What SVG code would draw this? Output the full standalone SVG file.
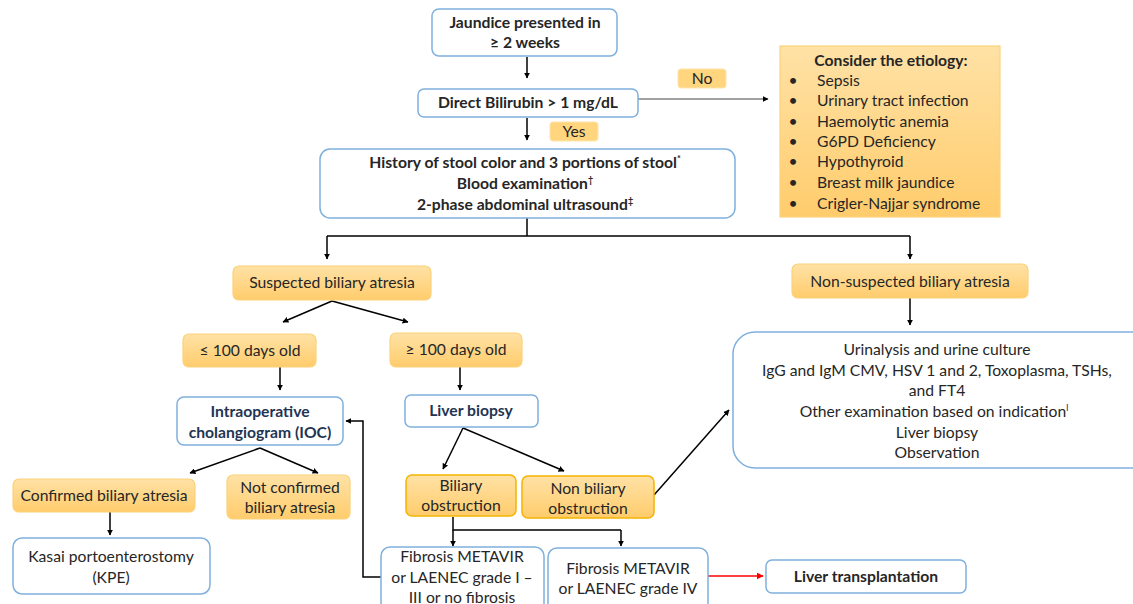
<svg xmlns="http://www.w3.org/2000/svg" width="1133" height="604" viewBox="0 0 1133 604">
<defs>
<linearGradient id="og" x1="0" y1="0" x2="0" y2="1">
<stop offset="0" stop-color="#FFE2A6"/><stop offset="1" stop-color="#FFCC6C"/>
</linearGradient>
<marker id="ah" viewBox="0 0 10 10" refX="9" refY="5" markerWidth="6" markerHeight="6" orient="auto" markerUnits="userSpaceOnUse">
<path d="M0,0 L10,5 L0,10 z" fill="#000"/>
</marker>
<marker id="ahr" viewBox="0 0 10 10" refX="9" refY="5" markerWidth="7" markerHeight="7" orient="auto" markerUnits="userSpaceOnUse">
<path d="M0,0 L10,5 L0,10 z" fill="#FF0000"/>
</marker>
</defs>
<style>
text{font-family:Lato,"Open Sans","Liberation Sans",sans-serif;font-size:15.7px;fill:#262626;text-anchor:middle}
.b{font-weight:bold}
.n{fill:#1F3554}
.bl{fill:#fff;stroke:#7FB0DD;stroke-width:1.5}
.or{fill:url(#og);stroke:#FBD27A;stroke-width:1.2}
.or2{fill:url(#og);stroke:#F5B400;stroke-width:1.5}
.lb{fill:#FFD57E;stroke:#FFE4A8;stroke-width:1}
.c{fill:none;stroke:#000;stroke-width:1.5}
.ca{fill:none;stroke:#000;stroke-width:1.5;marker-end:url(#ah)}
.l{text-anchor:start}
</style>
<g id="connectors">
<path class="ca" d="M527,57 V78"/>
<path class="ca" d="M638,99 H768" style="stroke-width:1;stroke:#444"/>
<path class="ca" d="M527,118 V140"/>
<path class="c" d="M527,218 V236 M327,236 H910"/>
<path class="ca" d="M327,236 V259"/>
<path class="ca" d="M910,236 V259"/>
<path class="ca" d="M332,301 L283,322"/>
<path class="ca" d="M332,301 L408,322"/>
<path class="ca" d="M280,367 V390"/>
<path class="ca" d="M460,367 V390"/>
<path class="ca" d="M260,448 L190,473"/>
<path class="ca" d="M260,448 L318,473"/>
<path class="ca" d="M110,512 V535"/>
<path class="ca" d="M463,428 L443,469"/>
<path class="ca" d="M463,428 L564,471"/>
<path class="ca" d="M654,495 L729,410"/>
<path class="c" d="M453,517 V530 H621"/>
<path class="ca" d="M453,530 V546"/>
<path class="ca" d="M621,530 V546"/>
<path class="ca" d="M381,577 H363 V421 H346"/>
<path class="ca" d="M708,576 H763" style="stroke:#FF0000;marker-end:url(#ahr)"/>
<path class="ca" d="M910,298 V325"/>
</g>
<g id="jaundice"><rect class="bl" x="432" y="9" width="185" height="47" rx="7"/><text class="b" x="525" y="28">Jaundice presented in</text><text class="b" x="525" y="48">≥ 2 weeks</text></g>
<g id="bilirubin"><rect class="bl" x="418" y="89" width="220" height="28" rx="6"/><text class="b" x="528" y="108">Direct Bilirubin &gt; 1 mg/dL</text></g>
<g id="no"><rect class="lb" x="678" y="69" width="48" height="19" rx="3"/><text x="702" y="84">No</text></g>
<g id="yes"><rect class="lb" x="550" y="122" width="48" height="19" rx="3"/><text x="574" y="137">Yes</text></g>
<g id="history"><rect class="bl" x="320" y="149" width="415" height="69" rx="10"/>
<text class="b" x="525" y="168">History of stool color and 3 portions of stool<tspan font-size="9" dy="-6">*</tspan></text>
<text class="b" x="525" y="189">Blood examination<tspan font-size="9" dy="-6">†</tspan></text>
<text class="b" x="525" y="210">2-phase abdominal ultrasound<tspan font-size="9" dy="-6">‡</tspan></text></g>
<g id="etiology"><rect class="or" x="780" y="46" width="220" height="171"/>
<text class="b" x="891" y="66">Consider the etiology:</text>
<text x="793" y="86">•</text><text class="l" x="817" y="86">Sepsis</text>
<text x="793" y="106">•</text><text class="l" x="817" y="106">Urinary tract infection</text>
<text x="793" y="127">•</text><text class="l" x="817" y="127">Haemolytic anemia</text>
<text x="793" y="147">•</text><text class="l" x="817" y="147">G6PD Deficiency</text>
<text x="793" y="167">•</text><text class="l" x="817" y="167">Hypothyroid</text>
<text x="793" y="188">•</text><text class="l" x="817" y="188">Breast milk jaundice</text>
<text x="793" y="209">•</text><text class="l" x="817" y="209">Crigler-Najjar syndrome</text>
</g>
<g id="suspected"><rect class="or" x="233" y="266" width="198" height="34" rx="6"/><text x="332" y="288">Suspected biliary atresia</text></g>
<g id="nonsuspected"><rect class="or" x="792" y="264" width="236" height="34" rx="6"/><text x="910" y="287">Non-suspected biliary atresia</text></g>
<g id="le100"><rect class="or" x="183" y="334" width="133" height="33" rx="6"/><text x="250" y="356">≤ 100 days old</text></g>
<g id="ge100"><rect class="or" x="390" y="333" width="132" height="34" rx="6"/><text x="456" y="355">≥ 100 days old</text></g>
<g id="ioc"><rect class="bl" x="177" y="397" width="166" height="48" rx="7"/><text class="b n" x="260" y="417">Intraoperative</text><text class="b n" x="260" y="438">cholangiogram (IOC)</text></g>
<g id="liverbiopsy"><rect class="bl" x="405" y="395" width="133" height="32" rx="6"/><text class="b n" x="471" y="416">Liver biopsy</text></g>
<g id="confirmed"><rect class="or" x="13" y="479" width="182" height="33" rx="6"/><text x="104" y="501">Confirmed biliary atresia</text></g>
<g id="notconfirmed"><rect class="or" x="227" y="475" width="123" height="44" rx="6"/><text x="290" y="493">Not confirmed</text><text x="290" y="513">biliary atresia</text></g>
<g id="kasai"><rect class="bl" x="13" y="538" width="197" height="56" rx="9"/><text x="111" y="562">Kasai portoenterostomy</text><text x="111" y="583">(KPE)</text></g>
<g id="biliaryobs"><rect class="or2" x="406" y="475" width="110" height="41" rx="6"/><text x="461" y="491">Biliary</text><text x="461" y="511">obstruction</text></g>
<g id="nonbiliaryobs"><rect class="or2" x="522" y="476" width="132" height="42" rx="6"/><text x="588" y="494">Non biliary</text><text x="588" y="514">obstruction</text></g>
<g id="fibrosis1"><rect class="bl" x="381" y="547" width="163" height="66" rx="9"/><text x="462" y="562">Fibrosis METAVIR</text><text x="462" y="583">or LAENEC grade I –</text><text x="462" y="603">III or no fibrosis</text></g>
<g id="fibrosis2"><rect class="bl" x="548" y="548" width="160" height="66" rx="9"/><text x="628" y="574">Fibrosis METAVIR</text><text x="628" y="594">or LAENEC grade IV</text></g>
<g id="transplant"><rect class="bl" x="766" y="560" width="200" height="33" rx="6"/><text class="b" x="866" y="582">Liver transplantation</text></g>
<g id="workup"><rect class="bl" x="733" y="332" width="420" height="136" rx="22"/>
<text x="937" y="355">Urinalysis and urine culture</text>
<text x="937" y="376">IgG and IgM CMV, HSV 1 and 2, Toxoplasma, TSHs,</text>
<text x="937" y="396">and FT4</text>
<text x="934" y="417">Other examination based on indication<tspan font-size="9" dy="-6">l</tspan></text>
<text x="937" y="438">Liver biopsy</text>
<text x="937" y="458">Observation</text></g>
</svg>
